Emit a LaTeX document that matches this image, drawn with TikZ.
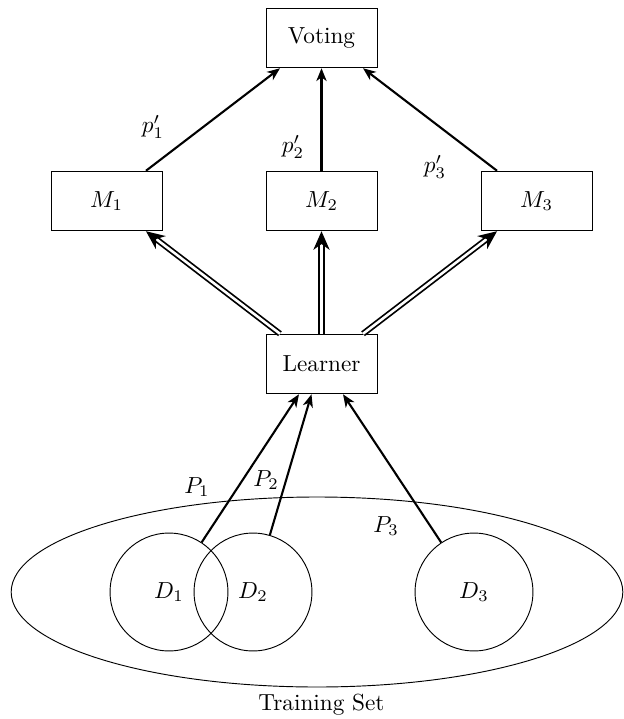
\documentclass[tikz,border=0pt]{standalone}
\usetikzlibrary{arrows.meta,calc,shapes.geometric}
\begin{document}
\begin{tikzpicture}[x=0.43pt,y=-0.43pt,
  box/.style={draw, line width=0.4pt, minimum width=47.7pt, minimum height=25.6pt, inner sep=0pt},
  disk/.style={draw, circle, line width=0.4pt, minimum size=50.7pt, inner sep=0pt},
  arr/.style={line width=0.9pt, -{Stealth[length=5.5pt,width=4.4pt,inset=1.6pt]}},
  dbl/.style={double, line width=0.75pt, double distance=1.1pt, -{Stealth[length=8pt,width=7pt,inset=2.5pt]}},
  lab/.style={inner sep=0pt}]
\useasboundingbox (0,0) rectangle (624,719);
% training set
\node[draw, ellipse, line width=0.4pt, minimum width=263pt, minimum height=81.7pt, inner sep=0pt] (T) at (317,592) {};
\node[lab] (TL) at (321.5,705) {Training Set};
\node[disk] (D1) at (169,592) {$D_1$};
\node[disk] (D2) at (253,592) {$D_2$};
\node[disk] (D3) at (474,592) {$D_3$};
% boxes
\node[box] (V) at (321.5,38) {Voting};
\node[box] (M1) at (106.5,201) {$M_1$};
\node[box] (M2) at (321.5,201) {$M_2$};
\node[box] (M3) at (536.5,201) {$M_3$};
\node[box] (L) at (321.5,364) {Learner};
% arrows to learner
\draw[arr] (D1) -- ($(L.south)+(-22.5,0)$);
\draw[arr] (D2) -- ($(L.south)+(-10,0)$);
\draw[arr] (D3) -- ($(L.south)+(21.5,0)$);
% learner to models
\draw[dbl] ($(L.north)+(-41.5,0)$) -- (M1);
\draw[dbl] (L) -- (M2);
\draw[dbl] ($(L.north)+(41.5,0)$) -- (M3);
% models to voting
\draw[arr] (M1) -- ($(V.south)+(-41.5,0)$);
\draw[arr] (M2) -- (V);
\draw[arr] (M3) -- ($(V.south)+(41.5,0)$);
% labels
\node[lab] (q1) at (153,127) {$p'_1$};
\node[lab] (q2) at (293,147) {$p'_2$};
\node[lab] (q3) at (435,167) {$p'_3$};
\node[lab] (P1) at (197,487) {$P_1$};
\node[lab] (P2) at (266,480) {$P_2$};
\node[lab] (P3) at (386,526) {$P_3$};
\end{tikzpicture}
\end{document}
